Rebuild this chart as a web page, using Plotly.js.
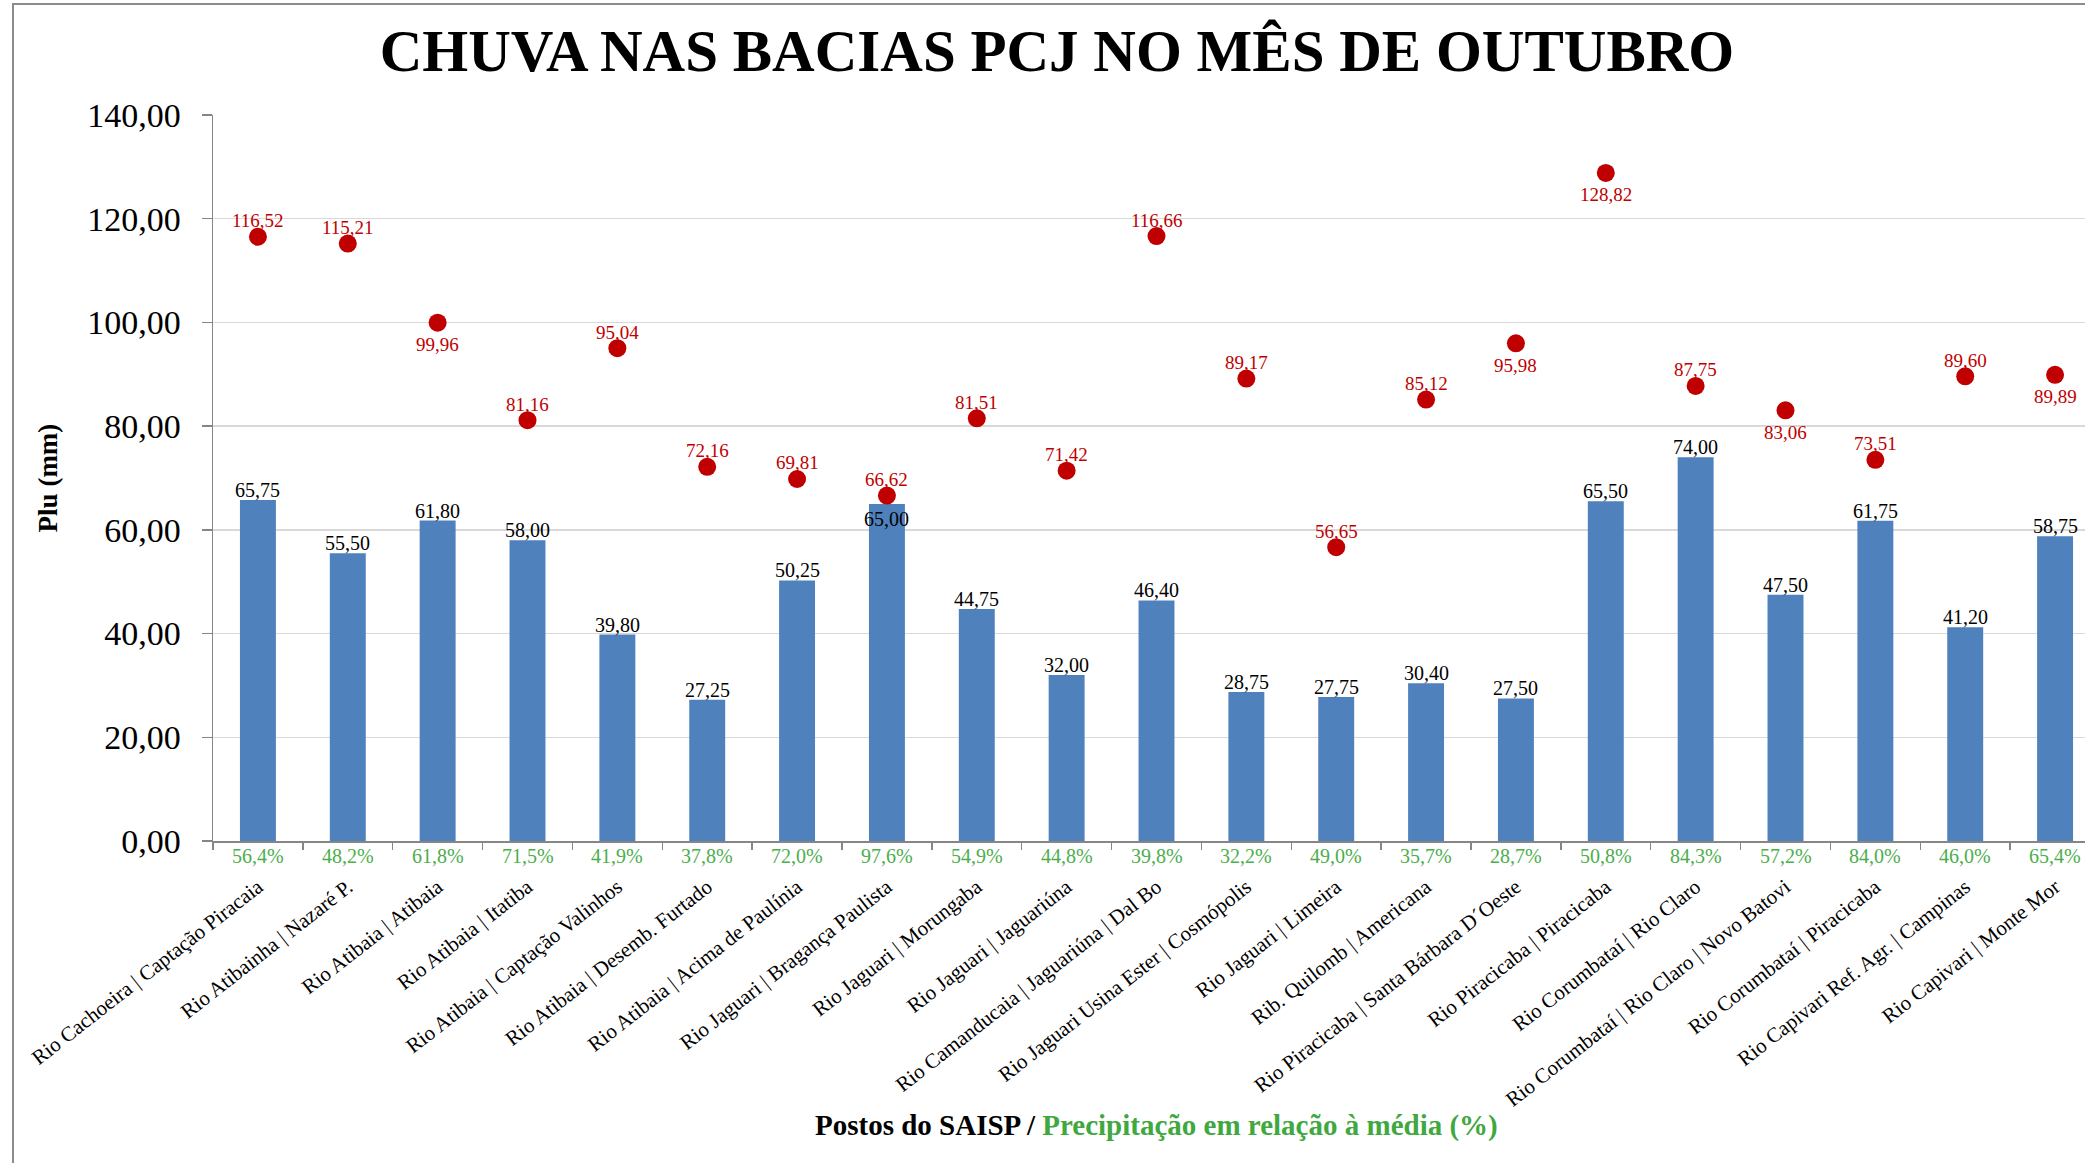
<!DOCTYPE html>
<html>
<head>
<meta charset="utf-8">
<script src="https://cdn.plot.ly/plotly-3.0.1.min.js"></script>
<style>
  html, body { margin: 0; padding: 0; background: #ffffff; overflow: hidden; }
  #chart { width: 2110px; height: 1163px; }
</style>
</head>
<body>
<div id="chart"></div>
<script>
const categories = [
  "Rio Cachoeira | Captação Piracaia",
  "Rio Atibainha | Nazaré P.",
  "Rio Atibaia | Atibaia",
  "Rio Atibaia | Itatiba",
  "Rio Atibaia | Captação Valinhos",
  "Rio Atibaia | Desemb. Furtado",
  "Rio Atibaia | Acima de Paulínia",
  "Rio Jaguari | Bragança Paulista",
  "Rio Jaguari | Morungaba",
  "Rio Jaguari | Jaguariúna",
  "Rio Camanducaia | Jaguariúna | Dal Bo",
  "Rio Jaguari Usina Ester | Cosmópolis",
  "Rio Jaguari | Limeira",
  "Rib. Quilomb | Americana",
  "Rio Piracicaba | Santa Bárbara D´Oeste",
  "Rio Piracicaba | Piracicaba",
  "Rio Corumbataí | Rio Claro",
  "Rio Corumbataí | Rio Claro | Novo Batovi",
  "Rio Corumbataí | Piracicaba",
  "Rio Capivari Ref. Agr. | Campinas",
  "Rio Capivari | Monte Mor"
];

// Chuva observada (mm) - barras
const chuvaObservada = [65.75, 55.50, 61.80, 58.00, 39.80, 27.25, 50.25, 65.00, 44.75, 32.00,
                        46.40, 28.75, 27.75, 30.40, 27.50, 65.50, 74.00, 47.50, 61.75, 41.20, 58.75];

// Média histórica (mm) - pontos
const mediaHistorica = [116.52, 115.21, 99.96, 81.16, 95.04, 72.16, 69.81, 66.62, 81.51, 71.42,
                        116.66, 89.17, 56.65, 85.12, 95.98, 128.82, 87.75, 83.06, 73.51, 89.60, 89.89];

// Precipitação em relação à média (%)
const percentualMedia = ["56,4%", "48,2%", "61,8%", "71,5%", "41,9%", "37,8%", "72,0%", "97,6%", "54,9%", "44,8%",
                         "39,8%", "32,2%", "49,0%", "35,7%", "28,7%", "50,8%", "84,3%", "57,2%", "84,0%", "46,0%", "65,4%"];

const yTicks = [0, 20, 40, 60, 80, 100, 120, 140];

const xTitleParts = ["Postos do SAISP / ", "Precipitação em relação à média (%)"];

// label placement flags (which labels sit below their mark)
const barLabelInside = new Set([7]);
const markerLabelBelow = new Set([2, 14, 15, 17, 20]);

const fmt = v => v.toFixed(2).replace('.', ',');
const FONT = '"Liberation Serif", "Times New Roman", serif';
const GREEN = '#4cae4c';
const RED = '#c00000';

const traces = [
  {
    type: 'bar',
    x: categories,
    y: chuvaObservada,
    marker: { color: '#4f81bd' },
    hoverinfo: 'x+y',
    showlegend: false
  },
  {
    type: 'scatter',
    mode: 'markers',
    x: categories,
    y: mediaHistorica,
    marker: { color: RED, size: 18 },
    cliponaxis: false,
    hoverinfo: 'x+y',
    showlegend: false
  }
];

const L = 213, R = 10, T = 115, B = 322, W = 2110, H = 1163;
const pw = W - L - R, ph = H - T - B;

const annotations = [];

// bar value labels
categories.forEach((c, i) => {
  const inside = barLabelInside.has(i);
  annotations.push({
    x: c, xref: 'x', y: chuvaObservada[i], yref: 'y',
    yanchor: 'middle', yshift: inside ? -15 : 10,
    text: fmt(chuvaObservada[i]), showarrow: false,
    font: { family: FONT, size: 20, color: '#000000' }
  });
});

// average value labels (red)
categories.forEach((c, i) => {
  const below = markerLabelBelow.has(i);
  annotations.push({
    x: c, xref: 'x', y: mediaHistorica[i], yref: 'y',
    yanchor: 'middle', yshift: below ? -22 : 16,
    text: fmt(mediaHistorica[i]), showarrow: false,
    font: { family: FONT, size: 19, color: RED }
  });
});

// percentage labels (green) under the axis
categories.forEach((c, i) => {
  annotations.push({
    x: c, xref: 'x', y: 0, yref: 'paper',
    yshift: -15, yanchor: 'middle',
    text: percentualMedia[i], showarrow: false,
    font: { family: FONT, size: 20, color: GREEN }
  });
});

// x-axis title (two colours), placed below the rotated tick labels
annotations.push({
  xref: 'paper', x: 0.5, xanchor: 'center',
  yref: 'paper', y: -(1125 - (H - B)) / ph, yanchor: 'middle',
  text: '<b>' + xTitleParts[0] + '<span style="color:#3fa83f">' + xTitleParts[1] + '</span></b>',
  showarrow: false,
  font: { family: FONT, size: 29, color: '#000000' }
});

const layout = {
  width: W,
  height: H,
  margin: { l: L, r: R, t: T, b: B, pad: 0 },
  paper_bgcolor: '#ffffff',
  plot_bgcolor: '#ffffff',
  separators: ',.',
  font: { family: FONT, color: '#000000' },
  title: {
    text: '<b>CHUVA NAS BACIAS PCJ NO MÊS DE OUTUBRO</b>',
    font: { family: FONT, size: 59, color: '#000000' },
    xref: 'container', x: 1057 / W, xanchor: 'center',
    yref: 'container', y: 1 - 50 / H, yanchor: 'middle'
  },
  bargap: 0.6,
  xaxis: {
    type: 'category',
    range: [-0.5, categories.length - 0.5],
    tickson: 'boundaries',
    ticks: 'outside',
    ticklen: 7,
    tickwidth: 1.5,
    tickcolor: '#868686',
    showline: true,
    linecolor: '#868686',
    linewidth: 1.5,
    showgrid: false,
    tickangle: -38,
    tickfont: { family: FONT, size: 21, color: '#000000' },
    ticklabelstandoff: 24,
    automargin: false
  },
  yaxis: {
    range: [0, 140],
    tickvals: yTicks,
    tickformat: '.2f',
    ticks: 'outside',
    ticklen: 10,
    tickwidth: 1.5,
    tickcolor: '#868686',
    showline: true,
    linecolor: '#868686',
    linewidth: 1.5,
    showgrid: true,
    gridcolor: '#d9d9d9',
    gridwidth: 1.5,
    zeroline: false,
    tickfont: { family: FONT, size: 34, color: '#000000' },
    ticklabelstandoff: 14,
    automargin: false,
    title: {
      text: '<b>Plu (mm)</b>',
      font: { family: FONT, size: 27, color: '#000000' },
      standoff: 22
    }
  },
  annotations: annotations,
  shapes: [{
    type: 'rect',
    xref: 'paper', yref: 'paper',
    x0: (13 - L) / pw, x1: 1.2,
    y0: -0.6, y1: (H - B - 4) / ph,
    line: { color: '#8c8c8c', width: 2 },
    fillcolor: 'rgba(0,0,0,0)',
    layer: 'below'
  }]
};

Plotly.newPlot('chart', traces, layout, { displayModeBar: false, staticPlot: true });
</script>
</body>
</html>
